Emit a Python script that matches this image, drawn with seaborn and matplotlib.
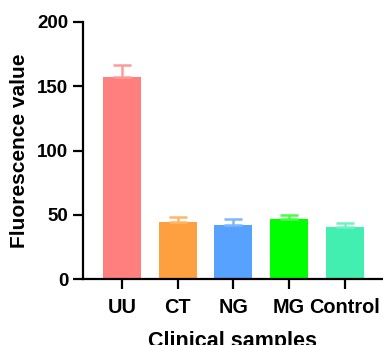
import matplotlib
matplotlib.use("Agg")
import matplotlib.pyplot as plt
import seaborn as sns
import pandas as pd
import numpy as np

categories = ["UU", "CT", "NG", "MG", "Control"]
means = [157, 44, 42, 47, 40.5]
sds = [9.5, 4.5, 4.7, 3.0, 3.0]
bar_colors = ["#FF7F7F", "#FFA040", "#57A1FF", "#00FF00", "#42EEB0"]
err_colors = ["#FF9A9A", "#FFB668", "#7DB6FF", "#44FF44", "#70F2C4"]
y_ticks = [0, 50, 100, 150, 200]

sns.set_theme(style="ticks")
plt.rcParams['font.family'] = ['Liberation Sans', 'DejaVu Sans']

df = pd.DataFrame({"sample": categories, "value": means})

fig = plt.figure(figsize=(3.83, 3.45), dpi=100)
ax = fig.add_axes([83/383, 66/345, 1 - 83/383, (279 - 22)/345])

sns.barplot(data=df, x="sample", y="value", hue="sample", palette=bar_colors,
            order=categories, width=0.68, legend=False, ax=ax, errorbar=None,
            saturation=1, linewidth=0)

for i, (m, s, c) in enumerate(zip(means, sds, err_colors)):
    ax.errorbar(i, m, yerr=[[0], [s]], fmt="none", ecolor=c, elinewidth=1.8,
                capsize=6.8, capthick=1.8, zorder=1)

ax.set_ylim(0, 200)
ax.set_yticks(y_ticks)
ax.set_xlim(-0.70, 4.69)
for sp in ["top", "right"]:
    ax.spines[sp].set_visible(False)
for sp in ["left", "bottom"]:
    ax.spines[sp].set_linewidth(1.6)
    ax.spines[sp].set_color("black")
ax.tick_params(axis="both", width=1.6, length=7, colors="black", labelcolor="black")
ax.tick_params(axis="y", labelsize=13.5)
ax.tick_params(axis="x", labelsize=14.3, pad=6.5)
for lab in ax.get_xticklabels() + ax.get_yticklabels():
    lab.set_fontweight("bold")
ax.set_xlabel("Clinical samples", fontsize=15.5, fontweight="bold", labelpad=10, color="black")
ax.set_ylabel("Fluorescence value", fontsize=15, fontweight="bold", labelpad=6, color="black")

fig.savefig("out.png", dpi=100)
